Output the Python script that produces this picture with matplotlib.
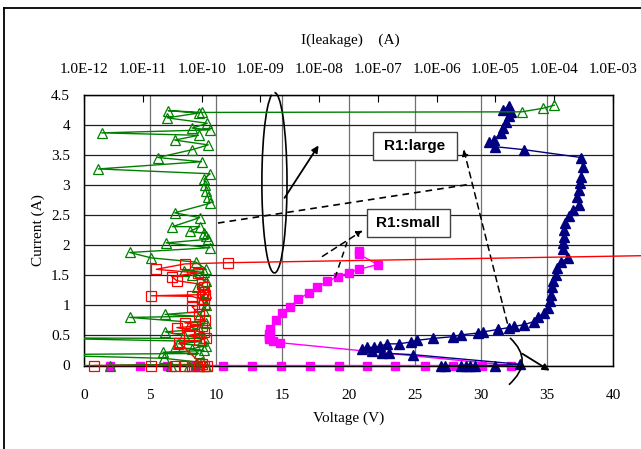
import matplotlib
matplotlib.use("Agg")
import matplotlib.pyplot as plt
import numpy as np
from matplotlib.lines import Line2D
from matplotlib.patches import Arc, Rectangle, PathPatch
from matplotlib.path import Path

plt.rcParams['font.family'] = ['Liberation Serif', 'DejaVu Serif']
plt.rcParams['font.size'] = 11

# ---- data: voltage (V) vs current (A), bottom axis ----
small_v = [2.0, 4.2, 6.3, 8.4, 10.5, 12.7, 14.9, 17.1, 19.3, 21.4, 23.5, 25.8, 27.9, 30.1, 32.3,
           14.8, 14.3, 14.0, 14.0, 14.0, 14.05, 14.1, 14.5, 15.0, 15.6, 16.2, 17.0, 17.6, 18.4,
           19.2, 20.0, 20.8, 22.2, 20.8, 20.8]
small_i = [0.0, 0.0, 0.0, 0.0, 0.0, 0.0, 0.0, 0.0, 0.0, 0.0, 0.0, 0.0, 0.0, 0.0, 0.0,
           0.38, 0.40, 0.44, 0.48, 0.52, 0.56, 0.60, 0.76, 0.88, 0.98, 1.10, 1.21, 1.30, 1.40,
           1.48, 1.54, 1.60, 1.68, 1.85, 1.90]

large_v = [27.0, 27.3, 28.5, 28.9, 29.2, 29.6, 31.1, 33.0,
           24.9, 23.1, 22.5, 21.8, 21.0, 21.4, 21.9, 22.4, 22.9, 23.8, 24.7, 25.2, 26.4, 27.9,
           28.5, 29.8, 30.2, 31.3, 32.1, 32.5, 33.3, 34.0, 34.3, 34.8, 35.1, 35.2, 35.3, 35.4,
           35.5, 35.7, 35.8, 36.1, 36.6, 36.2, 36.2, 36.3, 36.3, 36.4, 36.7, 37.0, 37.4, 37.3,
           37.4, 37.5, 37.6, 37.7, 37.6, 33.3, 31.1, 30.6, 31.0, 31.5, 31.7, 31.9, 32.1, 32.3,
           32.1, 31.7]
large_i = [0.0, 0.0, 0.0, 0.0, 0.0, 0.0, 0.0, 0.02,
           0.18, 0.20, 0.21, 0.24, 0.27, 0.30, 0.30, 0.32, 0.36, 0.36, 0.39, 0.42, 0.45, 0.48,
           0.51, 0.54, 0.56, 0.60, 0.63, 0.65, 0.68, 0.73, 0.80, 0.88, 0.96, 1.07, 1.18, 1.30,
           1.40, 1.51, 1.62, 1.73, 1.79, 1.93, 2.04, 2.14, 2.26, 2.37, 2.48, 2.59, 2.67, 2.81,
           2.92, 3.04, 3.14, 3.31, 3.46, 3.59, 3.64, 3.72, 3.75, 3.87, 3.95, 4.05, 4.15, 4.22,
           4.32, 4.25]

# ---- data: leakage current (A) vs current (A), top axis ----
green_leak = [1e-13, 9e-11, 3e-11, 6e-11, 1.2e-10, 2.8e-12, 8e-11, 1e-10, 2.3e-11, 1e-13,
              9e-11, 2.2e-11, 1.1e-10, 3.5e-11, 7e-11, 1.2e-10, 4e-11, 1e-10, 1e-13, 1.1e-10,
              5e-11, 2.4e-11, 9e-11, 6e-11, 1.2e-10, 6e-12, 9e-11, 2.4e-11, 1.1e-10, 1.2e-10,
              1.0e-10, 1.2e-10, 8.5e-11, 1.2e-10, 7e-11, 1.1e-10, 5e-11, 1.2e-10, 8e-11, 1.4e-11,
              6e-12, 1.4e-10, 2.5e-11, 1.3e-10, 1.2e-10, 1.1e-10, 6.3e-11, 9.3e-11, 3.2e-11,
              9.3e-11, 3.5e-11, 1.4e-10, 1.3e-10, 1.2e-10, 1.15e-10, 1.1e-10, 1.4e-10, 1.75e-12,
              1.0e-10, 1.8e-11, 6.9e-11, 1.3e-10, 3.5e-11, 8.9e-11, 2e-12, 1.4e-10, 6.9e-11,
              1.25e-10, 2.6e-11, 8.9e-11, 2.7e-11, 1.0e-10, 2.8e-5, 6.5e-5, 1.0e-4]
green_i = [0.0, 0.0, 0.0, 0.0, 0.0, 0.0, 0.02, 0.05, 0.12, 0.18,
           0.20, 0.22, 0.25, 0.30, 0.28, 0.33, 0.36, 0.40, 0.46, 0.45,
           0.50, 0.56, 0.60, 0.65, 0.70, 0.80, 0.82, 0.85, 0.90, 1.00,
           1.10, 1.20, 1.30, 1.40, 1.50, 1.55, 1.58, 1.60, 1.72, 1.79,
           1.88, 1.96, 2.04, 2.10, 2.15, 2.20, 2.23, 2.31, 2.31,
           2.46, 2.54, 2.70, 2.80, 2.90, 3.00, 3.10, 3.19, 3.27,
           3.39, 3.46, 3.59, 3.67, 3.75, 3.83, 3.87, 3.92, 3.95,
           4.03, 4.12, 4.20, 4.24, 4.21, 4.22, 4.28, 4.33]

red_leak = [1.5e-12, 1.4e-11, 3.5e-11, 5e-11, 7e-11, 9e-11, 1.1e-10, 1.25e-10, 1.0e-10,
            4.2e-11, 9e-11, 1.2e-10, 6e-11, 1.1e-10, 3.8e-11, 1e-10, 5.2e-11, 1.15e-10,
            9e-11, 6.9e-11, 1.1e-10, 1.0e-10, 6.9e-11, 1.4e-11, 1.15e-10, 1.05e-10, 1.1e-10,
            1.0e-10, 3.8e-11, 3.1e-11, 8.7e-11, 1.7e-11, 5.2e-11, 2.8e-10, 1e-2]
red_i = [0.0, 0.0, 0.0, 0.0, 0.0, 0.0, 0.0, 0.0, 0.02,
         0.38, 0.42, 0.45, 0.50, 0.55, 0.63, 0.66, 0.71, 0.75,
         0.85, 0.98, 1.02, 1.10, 1.15, 1.16, 1.18, 1.23, 1.30,
         1.35, 1.41, 1.48, 1.54, 1.60, 1.69, 1.71, 1.835]

top_ticks = [1e-12, 1e-11, 1e-10, 1e-9, 1e-8, 1e-7, 1e-6, 1e-5, 1e-4, 1e-3]
top_labels = ['1.0E-12', '1.0E-11', '1.0E-10', '1.0E-09', '1.0E-08',
              '1.0E-07', '1.0E-06', '1.0E-05', '1.0E-04', '1.0E-03']

fig = plt.figure(figsize=(6.41, 4.49), dpi=100)
ax = fig.add_axes([84 / 641, 1 - 365.5 / 449, 529 / 641, 270.5 / 449])

ax.set_xlim(0, 40)
ax.set_ylim(0, 4.5)
ax.set_xticks(np.arange(0, 41, 5))
ax.set_yticks(np.arange(0, 4.51, 0.5))
ax.set_yticklabels(['0', '0.5', '1', '1.5', '2', '2.5', '3', '3.5', '4', '4.5'])
ax.tick_params(axis='x', length=0, pad=17)
ax.tick_params(axis='y', length=0, pad=10)
ax.xaxis.grid(True, color='#707070', lw=0.9)
ax.yaxis.grid(True, color='#202020', lw=0.9)
ax.set_axisbelow(True)
for s in ax.spines.values():
    s.set_linewidth(1.0)

ax.plot(small_v, small_i, color='#FF00FF', lw=1.0, marker='s', ms=6,
        mec='#FF00FF', mfc='#FF00FF', clip_on=False, zorder=3)
ax.plot(large_v, large_i, color='#000080', lw=1.0, marker='^', ms=6.5,
        mec='#000080', mfc='#000080', clip_on=False, zorder=4)

# top log axis for leakage
ax2 = ax.twiny()
ax2.set_xscale('log')
ax2.set_xlim(1e-12, 1e-3)
ax2.set_xticks(top_ticks)
ax2.set_xticklabels(top_labels)
ax2.xaxis.set_minor_locator(matplotlib.ticker.NullLocator())
ax2.tick_params(axis='x', direction='in', length=5, pad=14)

gl = np.array(green_leak)
gi = np.array(green_i)
ax2.plot(gl, gi, color='#008000', lw=1.0, zorder=3)
inside = gl >= 1e-12
ax2.plot(gl[inside], gi[inside], ls='none', marker='^', ms=7, mec='#008000',
         mfc='none', mew=0.9, clip_on=False, zorder=3)
ax2.plot(red_leak, red_i, color='#FF0000', lw=1.0, marker='s', ms=6.5, mec='#FF0000',
         mfc='none', mew=0.9, clip_on=False, zorder=4)

# annotations (bottom-axis data coords)
arc = Arc((14.4, 3.04), 1.9, 3.0, theta1=98, theta2=450, color='black', lw=1.2,
          clip_on=False, zorder=6)
ax.add_patch(arc)
ax.annotate('', xy=(17.85, 3.70), xytext=(15.05, 2.75),
            arrowprops=dict(arrowstyle='-|>', color='black', lw=1.3, mutation_scale=10),
            zorder=6)
ax.plot([10.13, 29.34], [2.37, 3.02], color='black', ls=(0, (4, 3)), lw=1.2, zorder=6)
ax.annotate('', xy=(28.66, 3.64), xytext=(32.06, 0.66),
            arrowprops=dict(arrowstyle='-|>', color='black', lw=1.1, ls=(0, (4, 3)),
                            mutation_scale=9), zorder=6)
ax.annotate('', xy=(21.25, 2.27), xytext=(17.85, 1.79),
            arrowprops=dict(arrowstyle='-|>', color='black', lw=1.1, ls=(0, (4, 3)),
                            mutation_scale=9), zorder=6)
ax.plot([18.98, 19.89], [1.46, 2.05], color='black', ls=(0, (4, 3)), lw=1.1, zorder=6)

brace = Path([(32.21, 0.46), (34.1, 0.07), (32.13, -0.32)],
             [Path.MOVETO, Path.CURVE3, Path.CURVE3])
ax.add_patch(PathPatch(brace, fc='none', ec='black', lw=1.2, clip_on=False, zorder=6))
ax.annotate('', xy=(35.39, -0.11), xytext=(32.97, 0.22),
            arrowprops=dict(arrowstyle='-|>', color='black', lw=1.3, mutation_scale=10),
            annotation_clip=False, zorder=6)

for (x0, x1, y0, y1, label) in [(21.85, 28.2, 3.42, 3.885, 'R1:large'),
                                 (21.4, 27.67, 2.14, 2.60, 'R1:small')]:
    ax.add_patch(Rectangle((x0, y0), x1 - x0, y1 - y0, fc='white', ec='#404040',
                           lw=1.0, zorder=7))
    ax.text((x0 + x1) / 2, (y0 + y1) / 2, label, ha='center', va='center',
            family='Liberation Sans', weight='bold', fontsize=11, zorder=8)

fig.text(350 / 641, 1 - 40 / 449, 'I(leakage)    (A)', ha='center', va='center')
fig.text(348.5 / 641, 1 - 418 / 449, 'Voltage (V)', ha='center', va='center')
fig.text(38 / 641, 1 - 230 / 449, 'Current (A)', ha='center', va='center', rotation=90)

# outer chart border (top and left edges visible)
fig.add_artist(Line2D([3.5 / 641, 1], [1 - 7.5 / 449, 1 - 7.5 / 449], color='black', lw=1.3))
fig.add_artist(Line2D([3.5 / 641, 3.5 / 641], [0, 1 - 7.5 / 449], color='black', lw=1.3))

fig.savefig('out.png', dpi=100)
